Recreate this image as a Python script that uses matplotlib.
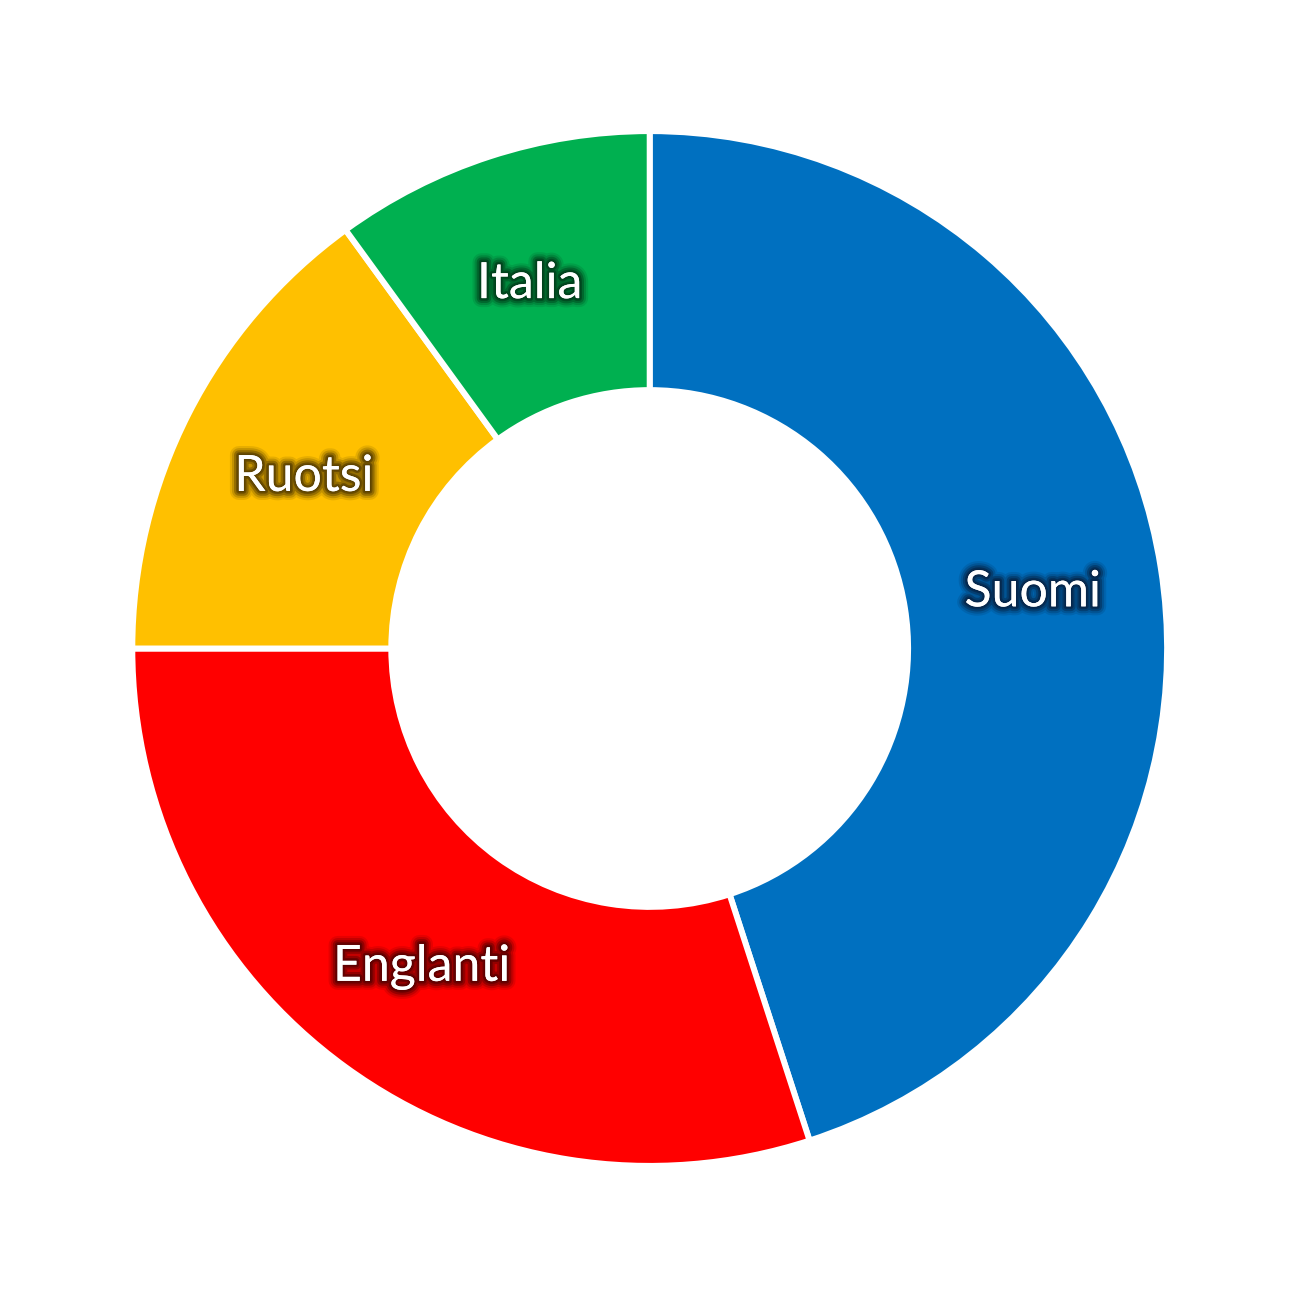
import matplotlib
matplotlib.use("Agg")
import matplotlib.pyplot as plt
import matplotlib.patheffects as pe

labels = ["Suomi", "Englanti", "Ruotsi", "Italia"]
values = [45, 30, 15, 10]
colors = ["#0070C0", "#FF0000", "#FFC000", "#00B050"]
glow = ["#06264a", "#5c0000", "#5c4200", "#00401c"]

fig = plt.figure(figsize=(12.99, 12.99), dpi=100)
ax = fig.add_axes([0, 0, 1, 1])
R = 517.4
cx, cy = 649.7, 650.5

wedges, texts = ax.pie(values, colors=colors, startangle=90, counterclock=False,
                       radius=1.0, labels=labels, labeldistance=0.7497,
                       wedgeprops=dict(width=0.5006, edgecolor="white", linewidth=4.3),
                       textprops=dict(color="white", fontsize=36, family=["Lato", "DejaVu Sans"]))
ax.set_xlim(-cx / R, (1299 - cx) / R)
ax.set_ylim(-cy / R, (1299 - cy) / R)
ax.set_aspect("equal")
ax.axis("off")

for t, g in zip(texts, glow):
    t.set_ha("center")
    t.set_va("center_baseline")
    t.set_path_effects([
        pe.withStroke(linewidth=13, foreground=g, alpha=0.15),
        pe.withStroke(linewidth=10, foreground=g, alpha=0.25),
        pe.withStroke(linewidth=7, foreground=g, alpha=0.45),
        pe.withStroke(linewidth=4, foreground=g, alpha=0.7),
        pe.withStroke(linewidth=2, foreground=g, alpha=0.9),
        pe.Normal(),
    ])

fig.savefig("out.png", dpi=100, facecolor="white")
